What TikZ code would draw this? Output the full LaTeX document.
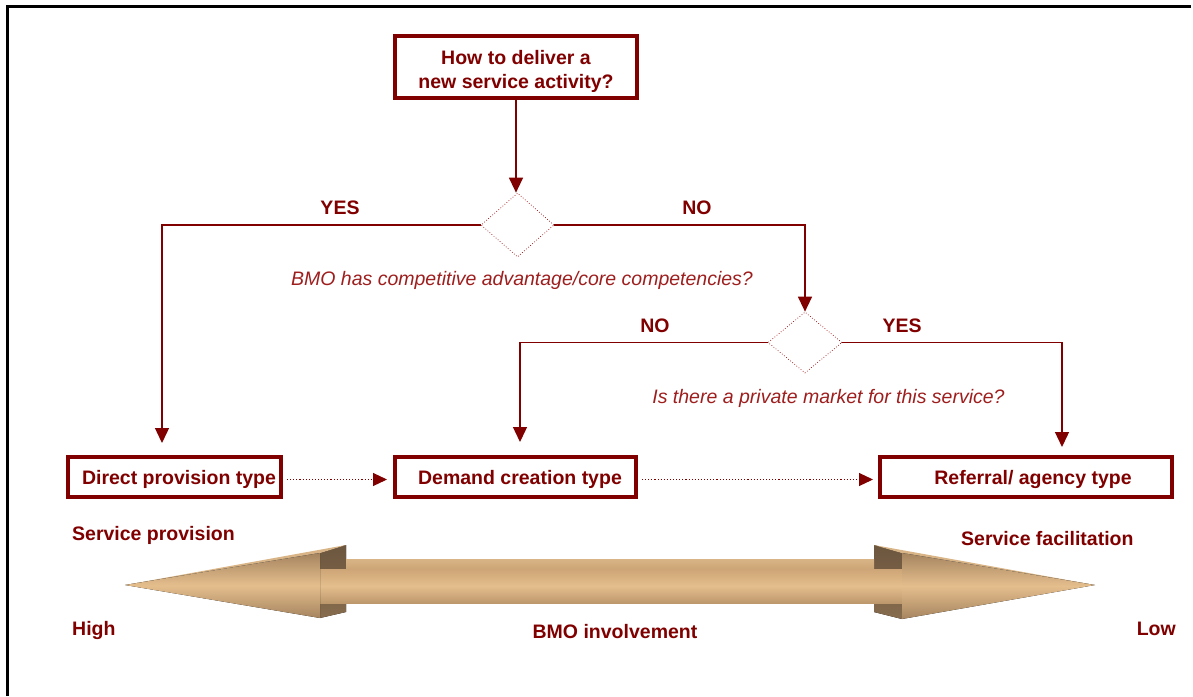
\documentclass[tikz,border=0pt]{standalone}
\usepackage{fontspec}
\setmainfont{Liberation Sans}
\usetikzlibrary{arrows.meta,shapes.geometric}
\definecolor{dred}{RGB}{128,0,0}
\definecolor{qred}{RGB}{158,30,30}
\definecolor{tanlight}{RGB}{229,190,141}
\definecolor{tanmid}{RGB}{205,165,118}
\definecolor{tandark}{RGB}{165,132,95}
\definecolor{tanback}{RGB}{135,108,78}
\definecolor{tantop}{RGB}{216,180,134}
\newcommand\dgmfont{\fontsize{19.5pt}{24pt}\selectfont}
\tikzset{
  box/.style={draw=dred, line width=4pt, text=dred, font=\dgmfont\bfseries, inner sep=0pt, align=center},
  onebox/.style={box, text height=20pt, text depth=4pt},
  dia/.style={diamond, draw=dred!85!red, dotted, line width=0.7pt, inner sep=0pt},
  conn/.style={draw=dred, line width=1.3pt, -{Triangle[length=15pt,width=14pt]}},
  dconn/.style={draw=dred, line width=1.1pt, dotted, -{Triangle[length=14pt,width=13pt]}},
  lbl/.style={text=dred, font=\dgmfont\bfseries, inner sep=0pt},
  qtext/.style={text=qred, font=\dgmfont\itshape, inner sep=0pt},
}
\begin{document}
\begin{tikzpicture}[x=1pt,y=-1pt]
\useasboundingbox (0,0) rectangle (1193,696);
% frame
\draw[line width=3pt] (7,696) -- (7,6) -- (1191,6);

% nodes
\node[box, minimum width=242pt, minimum height=62pt] (q) at (516,67) {\rule{0pt}{24pt}How to deliver a\\new service activity?};
\node[dia, minimum width=73pt, minimum height=64pt] (d1) at (517.5,225) {};
\node[dia, minimum width=74pt, minimum height=61pt] (d2) at (805,342.5) {};
\node[onebox, minimum width=213pt, minimum height=40pt] (direct) at (174.5,476.5) {\hspace*{9pt}Direct provision type};
\node[onebox, minimum width=241pt, minimum height=40pt] (demand) at (515.5,476.5) {\hspace*{9pt}Demand creation type};
\node[onebox, minimum width=292pt, minimum height=40pt] (referral) at (1026,476.5) {\hspace*{14pt}Referral/ agency type};

\coordinate (dirIn) at (162,443);
\coordinate (demIn) at (520,442);
\coordinate (refIn) at (1062,447);

% connectors
\draw[conn] (q.south) -- (q.south |- d1.north);
\draw[conn] (d1.west) -| (dirIn);
\draw[conn] (d1.east) -| (d2.north);
\draw[conn] (d2.west) -| (demIn);
\draw[conn] (d2.east) -| (refIn);
\draw[dconn, shorten <=4pt, shorten >=6pt] ([yshift=-3pt]direct.east) -- ([yshift=-3pt]demand.west);
\draw[dconn, shorten <=4pt, shorten >=5pt] ([yshift=-3pt]demand.east) -- ([yshift=-3pt]referral.west);

% labels
\node[lbl, anchor=base] (yes1) at (340,214) {YES};
\node[lbl, anchor=base] (no1) at (697,214) {NO};
\node[lbl, anchor=base] (no2) at (655,332) {NO};
\node[lbl, anchor=base] (yes2) at (902,332) {YES};
\node[qtext, anchor=base] (q1) at (522,285) {BMO has competitive advantage/core competencies?};
\node[qtext, anchor=base] (q2) at (828.5,403) {Is there a private market for this service?};
\node[lbl, anchor=base west] (sprov) at (72,540) {Service provision};
\node[lbl, anchor=base west] (sfac) at (961,545) {Service facilitation};
\node[lbl, anchor=base west] (high) at (72,635) {High};
\node[lbl, anchor=base east] (low) at (1176,635) {Low};
\node[lbl, anchor=base] (inv) at (615,638) {BMO involvement};

% big double arrow
% back faces
\fill[top color=tanback!80!black, bottom color=tanback] (320,553) -- (346,545) -- (346,612) -- (320,618) -- cycle;
\fill[top color=tanback!80!black, bottom color=tanback] (874,545) -- (902,553) -- (902,619) -- (874,612) -- cycle;
% shaft top face
\fill[top color=tantop, bottom color=tanmid] (346,559) rectangle (874,569);
% shaft front
\fill[top color=tanmid, bottom color=tanmid!92!black, middle color=tanlight] (320,569) rectangle (902,603);
% head bevels
\fill[tantop] (125,585) -- (346,545) -- (320,553) -- cycle;
\fill[tantop] (1095,585) -- (874,545) -- (902,553) -- cycle;
% head fronts
\fill[top color=tandark, bottom color=tandark, middle color=tanlight] (125,585) -- (320,553) -- (320,618) -- cycle;
\fill[top color=tandark, bottom color=tandark, middle color=tanlight] (1095,585) -- (902,553) -- (902,619) -- cycle;
\end{tikzpicture}
\end{document}
